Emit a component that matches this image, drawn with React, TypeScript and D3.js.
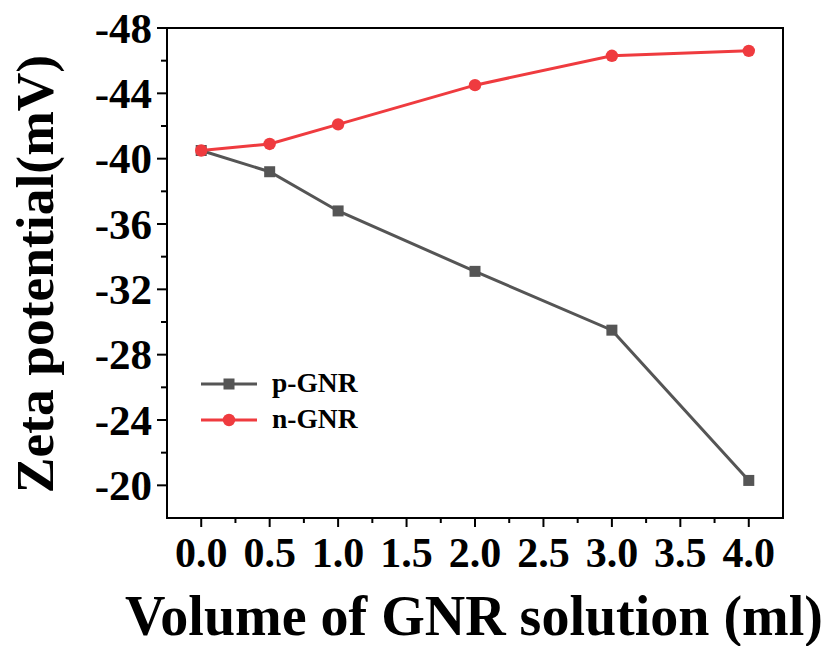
import React from "react";
import * as d3 from "d3";

const xValues = [0, 0.5, 1, 2, 3, 4];
const pGNR = [-40.5, -39.2, -36.8, -33.1, -29.5, -20.3];
const nGNR = [-40.5, -40.9, -42.1, -44.5, -46.3, -46.6];
const xTicks = [0, 0.5, 1, 1.5, 2, 2.5, 3, 3.5, 4];
const yTicks = [-48, -44, -40, -36, -32, -28, -24, -20];
const seriesNames = ["p-GNR", "n-GNR"];

const W = 830, H = 646;
const L = 167, R = 783, T = 28, B = 518;
const FONT = "'Liberation Serif', 'Times New Roman', serif";

export default function App() {
  const x = d3.scaleLinear().domain([-0.25, 4.25]).range([L, R]);
  const y = d3.scaleLinear().domain([-18, -48]).range([B, T]);
  const line = d3.line<number>().x((_, i) => x(xValues[i])).y(d => y(d));
  const gray = "#555555";
  const red = "#ef3b3f";
  const xMinor = d3.range(-0.25, 4.26, 0.5).filter(v => v > -0.25 && v < 4.25);
  const yMinor = d3.range(-46, -18, 4);

  return (
    <svg width={W} height={H} style={{ position: "absolute", left: 0, top: 0 }}>
      <rect width={W} height={H} fill="#fff" />
      {xTicks.map(t => (
        <line key={"xt" + t} x1={x(t)} x2={x(t)} y1={B} y2={B + 9} stroke="#000" strokeWidth={2} />
      ))}
      {xMinor.map(t => (
        <line key={"xm" + t} x1={x(t)} x2={x(t)} y1={B} y2={B + 5} stroke="#000" strokeWidth={2} />
      ))}
      {yTicks.map(t => (
        <line key={"yt" + t} x1={L - 10} x2={L} y1={y(t)} y2={y(t)} stroke="#000" strokeWidth={2} />
      ))}
      {yMinor.map(t => (
        <line key={"ym" + t} x1={L - 6} x2={L} y1={y(t)} y2={y(t)} stroke="#000" strokeWidth={2} />
      ))}
      <rect x={L} y={T} width={R - L} height={B - T} fill="none" stroke="#000" strokeWidth={2} />
      {xTicks.map(t => (
        <text key={"xl" + t} x={x(t)} y={567} textAnchor="middle" fontFamily={FONT} fontWeight="bold" fontSize={42}>
          {d3.format(".1f")(t)}
        </text>
      ))}
      {yTicks.map(t => (
        <text key={"yl" + t} x={152} y={y(t)} dy="0.34em" textAnchor="end" fontFamily={FONT} fontWeight="bold" fontSize={43}>
          {String(t)}
        </text>
      ))}
      <text x={474} y={635} textAnchor="middle" fontFamily={FONT} fontWeight="bold" fontSize={56}>
        Volume of GNR solution (ml)
      </text>
      <text transform={`translate(53,274) rotate(-90)`} textAnchor="middle" fontFamily={FONT} fontWeight="bold" fontSize={53.5}>
        Zeta potential(mV)
      </text>
      <path d={line(pGNR) || ""} fill="none" stroke={gray} strokeWidth={3} />
      {pGNR.map((v, i) => (
        <rect key={"pm" + i} x={x(xValues[i]) - 5.5} y={y(v) - 5.5} width={11} height={11} fill={gray} />
      ))}
      <path d={line(nGNR) || ""} fill="none" stroke={red} strokeWidth={3} />
      {nGNR.map((v, i) => (
        <circle key={"nm" + i} cx={x(xValues[i])} cy={y(v)} r={6.2} fill={red} />
      ))}
      <g>
        <line x1={201} x2={257} y1={384} y2={384} stroke={gray} strokeWidth={3} />
        <rect x={223.5} y={378.5} width={11} height={11} fill={gray} />
        <text x={272} y={392} fontFamily={FONT} fontWeight="bold" fontSize={27.5}>{seriesNames[0]}</text>
        <line x1={201} x2={257} y1={420} y2={420} stroke={red} strokeWidth={3} />
        <circle cx={229} cy={420} r={6.2} fill={red} />
        <text x={272} y={428} fontFamily={FONT} fontWeight="bold" fontSize={27.5}>{seriesNames[1]}</text>
      </g>
    </svg>
  );
}
